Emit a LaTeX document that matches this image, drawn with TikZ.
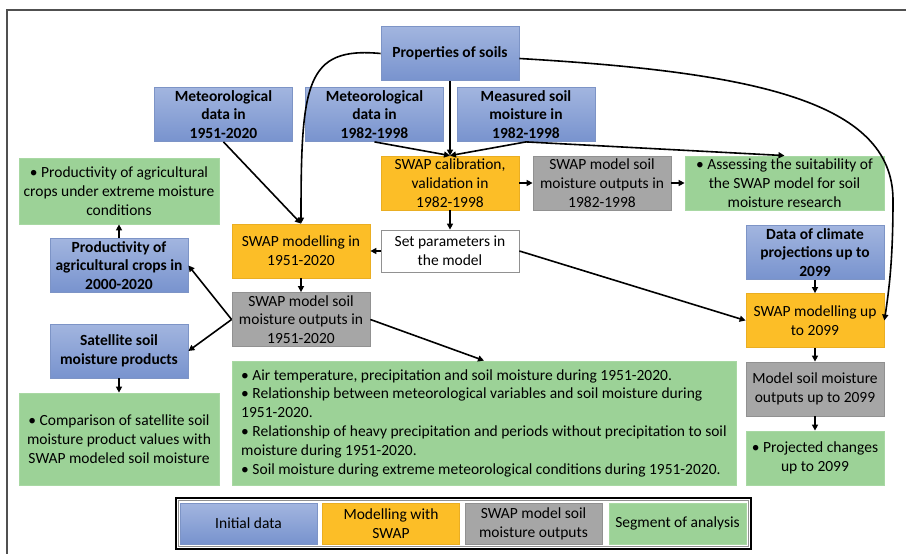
\documentclass[tikz,border=0pt]{standalone}
\usepackage{fontspec}
\setmainfont{Carlito}
\usetikzlibrary{arrows.meta}

\definecolor{bluetop}{HTML}{A2B5DF}
\definecolor{bluebot}{HTML}{7893CE}
\definecolor{blueline}{HTML}{7D94C6}
\definecolor{swaporange}{HTML}{FCBE27}
\definecolor{orangeline}{HTML}{EAAE22}
\definecolor{outgray}{HTML}{A6A6A6}
\definecolor{grayline}{HTML}{919191}
\definecolor{anagreen}{HTML}{9CD297}
\definecolor{greenline}{HTML}{A8D8A3}
\definecolor{framegray}{HTML}{505050}

\begin{document}
\begin{tikzpicture}[x=1pt, y=-1pt, font=\fontsize{15.5}{18.8}\selectfont,
    box/.style={draw, align=center, minimum width=138pt, minimum height=54pt, inner sep=2pt, line width=0.8pt},
    data/.style={box, draw=blueline, top color=bluetop, bottom color=bluebot, font=\fontsize{15.5}{18.8}\selectfont\bfseries},
    swap/.style={box, draw=orangeline, fill=swaporange},
    output/.style={box, draw=grayline, fill=outgray},
    analysis/.style={box, draw=greenline, fill=anagreen},
    key/.style={minimum height=41pt, minimum width=137pt},
    arr/.style={-{Triangle[length=6pt,width=6pt]}, line width=1.6pt}]
    \useasboundingbox (0,0) rectangle (906,554);
    \draw[framegray, line width=1.5pt] (7,554) -- (7,10) -- (906,10);

    % initial data
    \node[data] (soils) at (450,53.5) {Properties of soils};
    \node[data] (met51) at (223.5,114.5) {Meteorological\\data in\\1951-2020};
    \node[data] (met82) at (374.5,114.5) {Meteorological\\data in\\1982-1998};
    \node[data] (meas) at (526,114.5) {Measured soil\\moisture in\\1982-1998};
    \node[data] (prodb) at (119,265.5) {Productivity of\\agricultural crops in\\2000-2020};
    \node[data] (sat) at (119,351) {Satellite soil\\moisture products};
    \node[data] (clim) at (815,252.5) {Data of climate\\projections up to\\2099};

    % calibration branch
    \node[swap] (calib) at (450,183) {SWAP calibration,\\validation in\\1982-1998};
    \node[output] (out82) at (602,183) {SWAP model soil\\moisture outputs in\\1982-1998};
    \node[analysis, minimum width=199pt] (assess) at (784.5,183) {\textbullet{} Assessing the suitability of\\the SWAP model for soil\\moisture research};
    \node[box, draw=grayline, minimum height=42pt] (setpar) at (450,251) {Set parameters in\\the model};

    % 1951-2020 branch
    \node[swap] (mod51) at (301,251) {SWAP modelling in\\1951-2020};
    \node[output] (out51) at (301,319.5) {SWAP model soil\\moisture outputs in\\1951-2020};
    \node[analysis, minimum width=200pt, minimum height=66pt] (prodg) at (119,191) {\textbullet{} Productivity of agricultural\\crops under extreme moisture\\conditions};
    \node[analysis, minimum width=200pt, minimum height=92pt] (comp) at (119,439) {\textbullet{} Comparison of satellite soil\\moisture product values with\\SWAP modeled soil moisture};
    \node[analysis, minimum width=504pt, minimum height=124pt, align=left] (big) at (484,423) {%
        \textbullet{} Air temperature, precipitation and soil moisture during 1951-2020.\\
        \textbullet{} Relationship between meteorological variables and soil moisture during\\
        1951-2020.\\
        \textbullet{} Relationship of heavy precipitation and periods without precipitation to soil\\
        moisture during 1951-2020.\\
        \textbullet{} Soil moisture during extreme meteorological conditions during 1951-2020.};

    % projections up to 2099
    \node[swap] (mod99) at (815,320.5) {SWAP modelling up\\to 2099};
    \node[output] (out99) at (815,389) {Model soil moisture\\outputs up to 2099};
    \node[analysis] (proj) at (815,458) {\textbullet{} Projected changes\\up to 2099};

    % legend
    \draw[line width=1.6pt] (176,498) rectangle (751,549);
    \draw[line width=0.5pt, grayline] (178.5,500.5) rectangle (748.5,546.5);
    \node[data, key, font=\fontsize{15.5}{18.8}\selectfont] (k1) at (248.5,523.5) {Initial data};
    \node[swap, key] (k2) at (391,523.5) {Modelling with\\SWAP};
    \node[output, key] (k3) at (533.5,523.5) {SWAP model soil\\moisture outputs};
    \node[analysis, key] (k4) at (677.5,523.5) {Segment of analysis};

    % connectors
    \draw[arr] (soils) -- (calib);
    \draw[arr] (met82.south) -- (calib.north);
    \draw[arr] (meas.south) -- (calib.north);
    \draw[arr] (meas.south) -- (assess.north);
    \draw[arr] (calib) -- (out82);
    \draw[arr] (out82) -- (assess);
    \draw[arr] (calib) -- (setpar);
    \draw[arr] (setpar) -- (mod51);
    \draw[arr] (setpar.east) -- (mod99.west);
    \draw[arr] (soils.west) .. controls +(-75,-7) and +(0,-140) .. (mod51.north);
    \draw[arr] ([yshift=-5pt]soils.east) .. controls (750,72) and (893,100) .. (893,200)
        .. controls (893,260) and (889,290) .. (mod99.east);
    \draw[arr] (met51.south) -- (mod51.north);
    \draw[arr] (mod51) -- (out51);
    \draw[arr] (out51.west) -- (prodb.east);
    \draw[arr] (out51.west) -- (sat.east);
    \draw[arr] (out51.east) -- (big.north);
    \draw[arr] (prodb) -- (prodg);
    \draw[arr] (sat) -- (comp);
    \draw[arr] (clim) -- (mod99);
    \draw[arr] (mod99) -- (out99);
    \draw[arr] (out99) -- (proj);
\end{tikzpicture}
\end{document}
